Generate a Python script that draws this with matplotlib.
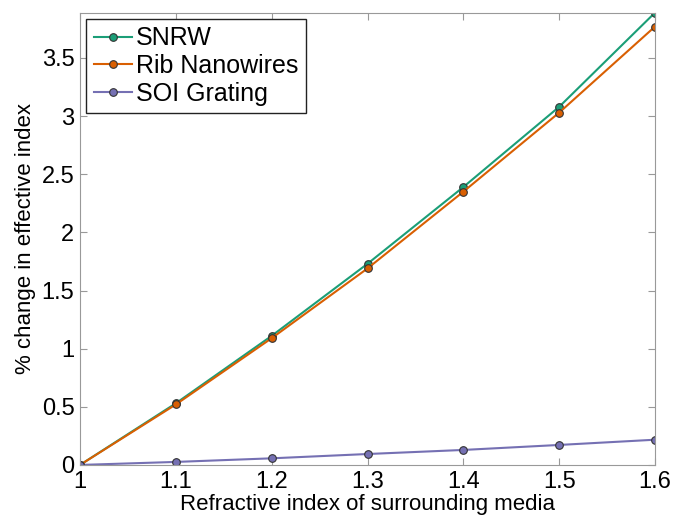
import matplotlib
matplotlib.use('Agg')
from matplotlib import pyplot as plt

n_media = [1.0, 1.1, 1.2, 1.3, 1.4, 1.5, 1.6]
snrw = [0.0, 0.53, 1.11, 1.73, 2.39, 3.08, 3.89]
rib = [0.0, 0.52, 1.09, 1.69, 2.35, 3.03, 3.77]
soi = [0.0, 0.026, 0.057, 0.094, 0.129, 0.172, 0.217]
x_labels = ['1', '1.1', '1.2', '1.3', '1.4', '1.5', '1.6']
y_ticks = [0, 0.5, 1, 1.5, 2, 2.5, 3, 3.5]
y_labels = ['0', '0.5', '1', '1.5', '2', '2.5', '3', '3.5']

plt.rcParams['font.family'] = ['Liberation Sans', 'DejaVu Sans']

fig = plt.figure(figsize=(6.75, 5.23), dpi=100)
ax = fig.add_axes([0.1185, 0.111, 0.852, 0.865])

mk = dict(marker='o', markersize=5.5, markeredgecolor='#333333', markeredgewidth=0.8, linewidth=1.5)
ax.plot(n_media, snrw, color='#1b9e77', markerfacecolor='#1b9e77', label='SNRW', **mk)
ax.plot(n_media, rib, color='#d95f02', markerfacecolor='#d95f02', label='Rib Nanowires', **mk)
ax.plot(n_media, soi, color='#7570b3', markerfacecolor='#7570b3', label='SOI Grating', **mk)

ax.set_xlim(1.0, 1.6)
ax.set_ylim(0, 3.89)
ax.set_xticks(n_media)
ax.set_xticklabels(x_labels)
ax.set_yticks(y_ticks)
ax.set_yticklabels(y_labels)
ax.tick_params(direction='in', top=True, right=True, length=5, color='#999999', labelsize=17, pad=4)
for s in ax.spines.values():
    s.set_color('#999999')

ax.set_xlabel('Refractive index of surrounding media', fontsize=16, labelpad=1)
ax.set_ylabel('% change in effective index', fontsize=16, labelpad=4)

leg = ax.legend(loc='upper left', fontsize=18, fancybox=False, framealpha=1,
                edgecolor='#222222', handlelength=1.55, borderaxespad=0.25,
                borderpad=0.3, labelspacing=0.15, handletextpad=0.15)
leg.get_frame().set_linewidth(1.0)

fig.savefig('out.png', dpi=100)
